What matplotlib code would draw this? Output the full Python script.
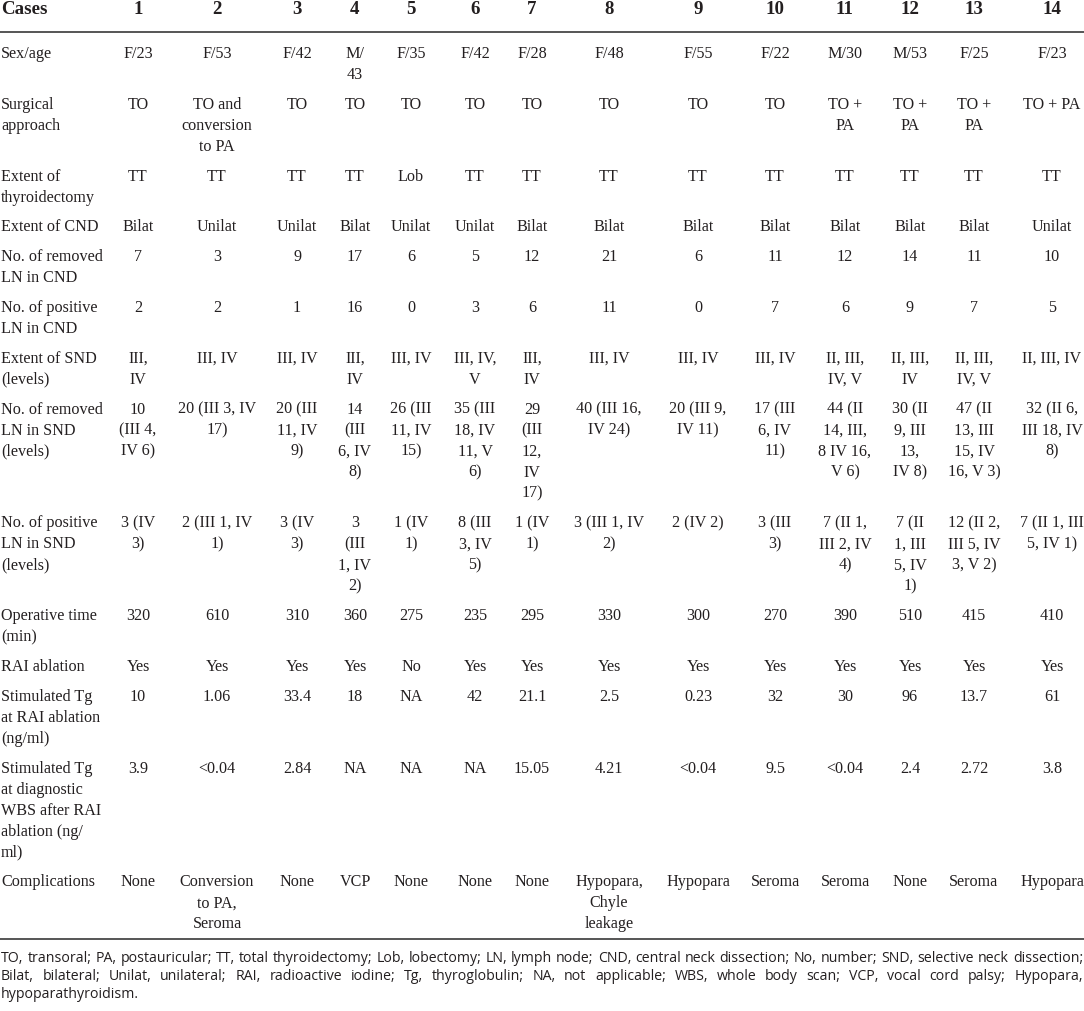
import matplotlib
matplotlib.use('Agg')
import matplotlib.pyplot as plt

# table content
cases = ['1', '2', '3', '4', '5', '6', '7', '8', '9', '10', '11', '12', '13', '14']

row_labels = [
    'Sex/age',
    'Surgical\napproach',
    'Extent of\nthyroidectomy',
    'Extent of CND',
    'No. of removed\nLN in CND',
    'No. of positive\nLN in CND',
    'Extent of SND\n(levels)',
    'No. of removed\nLN in SND\n(levels)',
    'No. of positive\nLN in SND\n(levels)',
    'Operative time\n(min)',
    'RAI ablation',
    'Stimulated Tg\nat RAI ablation\n(ng/ml)',
    'Stimulated Tg\nat diagnostic\nWBS after RAI\nablation (ng/\nml)',
    'Complications',
]

sex_age = ['F/23', 'F/53', 'F/42', 'M/\n43', 'F/35', 'F/42', 'F/28', 'F/48',
           'F/55', 'F/22', 'M/30', 'M/53', 'F/25', 'F/23']
approach = ['TO', 'TO and\nconversion\nto PA', 'TO', 'TO', 'TO', 'TO', 'TO', 'TO',
            'TO', 'TO', 'TO +\nPA', 'TO +\nPA', 'TO +\nPA', 'TO + PA']
thyroidectomy = ['TT', 'TT', 'TT', 'TT', 'Lob', 'TT', 'TT', 'TT', 'TT', 'TT',
                 'TT', 'TT', 'TT', 'TT']
cnd_extent = ['Bilat', 'Unilat', 'Unilat', 'Bilat', 'Unilat', 'Unilat', 'Bilat',
              'Bilat', 'Bilat', 'Bilat', 'Bilat', 'Bilat', 'Bilat', 'Unilat']
cnd_removed = ['7', '3', '9', '17', '6', '5', '12', '21', '6', '11', '12', '14', '11', '10']
cnd_positive = ['2', '2', '1', '16', '0', '3', '6', '11', '0', '7', '6', '9', '7', '5']
snd_extent = ['III,\nIV', 'III, IV', 'III, IV', 'III,\nIV', 'III, IV', 'III, IV,\nV',
              'III,\nIV', 'III, IV', 'III, IV', 'III, IV', 'II, III,\nIV, V',
              'II, III,\nIV', 'II, III,\nIV, V', 'II, III, IV']
snd_removed = ['10\n(III 4,\nIV 6)', '20 (III 3, IV\n17)', '20 (III\n11, IV\n9)',
               '14\n(III\n6, IV\n8)', '26 (III\n11, IV\n15)', '35 (III\n18, IV\n11, V\n6)',
               '29\n(III\n12,\nIV\n17)', '40 (III 16,\nIV 24)', '20 (III 9,\nIV 11)',
               '17 (III\n6, IV\n11)', '44 (II\n14, III,\n8 IV 16,\nV 6)',
               '30 (II\n9, III\n13,\nIV 8)', '47 (II\n13, III\n15, IV\n16, V 3)',
               '32 (II 6,\nIII 18, IV\n8)']
snd_positive = ['3 (IV\n3)', '2 (III 1, IV\n1)', '3 (IV\n3)', '3\n(III\n1, IV\n2)',
                '1 (IV\n1)', '8 (III\n3, IV\n5)', '1 (IV\n1)', '3 (III 1, IV\n2)',
                '2 (IV 2)', '3 (III\n3)', '7 (II 1,\nIII 2, IV\n4)',
                '7 (II\n1, III\n5, IV\n1)', '12 (II 2,\nIII 5, IV\n3, V 2)',
                '7 (II 1, III\n5, IV 1)']
op_time = ['320', '610', '310', '360', '275', '235', '295', '330', '300', '270',
           '390', '510', '415', '410']
rai = ['Yes', 'Yes', 'Yes', 'Yes', 'No', 'Yes', 'Yes', 'Yes', 'Yes', 'Yes', 'Yes',
       'Yes', 'Yes', 'Yes']
tg_rai = ['10', '1.06', '33.4', '18', 'NA', '42', '21.1', '2.5', '0.23', '32', '30',
          '96', '13.7', '61']
tg_wbs = ['3.9', '<0.04', '2.84', 'NA', 'NA', 'NA', '15.05', '4.21', '<0.04', '9.5',
          '<0.04', '2.4', '2.72', '3.8']
complications = ['None', 'Conversion\nto PA,\nSeroma', 'None', 'VCP', 'None', 'None',
                 'None', 'Hypopara,\nChyle\nleakage', 'Hypopara', 'Seroma', 'Seroma',
                 'None', 'Seroma', 'Hypopara']

rows = [sex_age, approach, thyroidectomy, cnd_extent, cnd_removed, cnd_positive,
        snd_extent, snd_removed, snd_positive, op_time, rai, tg_rai, tg_wbs,
        complications]

footnote = [
    'TO, transoral; PA, postauricular; TT, total thyroidectomy; Lob, lobectomy; LN, lymph node; '
    'CND, central neck dissection; No, number; SND, selective neck dissection;',
    'Bilat, bilateral; Unilat, unilateral; RAI, radioactive iodine; Tg, thyroglobulin; NA, not '
    'applicable; WBS, whole body scan; VCP, vocal cord palsy; Hypopara,',
    'hypoparathyroidism.',
]

# layout (pixels)
W, H = 1084, 1011
col_x = [138, 217, 297, 355, 411, 475, 532, 609, 698, 775, 845, 910, 974, 1052]
line_h = 21.0
row_pad = 8.8
first_base = 58.0
ink = '#231f20'
serif = 'Liberation Serif'
body_fs = 11.6

fig = plt.figure(figsize=(W / 100, H / 100), dpi=100)
ax = fig.add_axes([0, 0, 1, 1])
ax.set_xlim(0, W)
ax.set_ylim(H, 0)
ax.axis('off')

# header
ax.text(1, 14, 'Cases', family=serif, weight='bold', fontsize=13.6, color=ink,
        ha='left', va='baseline')
for x, c in zip(col_x, cases):
    ax.text(x, 14, c, family=serif, weight='bold', fontsize=13.6, color=ink,
            ha='center', va='baseline')
ax.plot([0, W], [31.5, 31.5], color='#555555', lw=1.4, solid_capstyle='butt')

# body
y = first_base
for label, vals in zip(row_labels, rows):
    nlines = max([len(v.split('\n')) for v in vals + [label]])
    for i, ln in enumerate(label.split('\n')):
        ax.text(1, y + i * line_h, ln, family=serif, fontsize=body_fs, color=ink,
                ha='left', va='baseline')
    for x, v in zip(col_x, vals):
        for i, ln in enumerate(v.split('\n')):
            ax.text(x, y + i * line_h, ln, family=serif, fontsize=body_fs, color=ink,
                    ha='center', va='baseline')
    y += nlines * line_h + row_pad

ax.plot([0, W], [939, 939], color='#555555', lw=1.4, solid_capstyle='butt')

# footnote, justified
renderer = fig.canvas.get_renderer()
sans = 'Open Sans'


def text_w(s, fs):
    t = ax.text(0, 0, s, family=sans, fontsize=fs)
    w = t.get_window_extent(renderer).width
    t.remove()
    return w


ref = 10
nat = text_w(footnote[0], ref)
fs = ref * 1076 / nat
foot_base = [962, 980, 998]
for k, line in enumerate(footnote):
    words = line.split(' ')
    if k == len(footnote) - 1:
        ax.text(1, foot_base[k], line, family=sans, fontsize=fs, color=ink,
                ha='left', va='baseline')
        continue
    widths = [text_w(w, fs) for w in words]
    gap = (W - 2 - sum(widths)) / (len(words) - 1)
    x = 1
    for w, ww in zip(words, widths):
        ax.text(x, foot_base[k], w, family=sans, fontsize=fs, color=ink,
                ha='left', va='baseline')
        x += ww + gap

fig.savefig('out.png', dpi=100)
